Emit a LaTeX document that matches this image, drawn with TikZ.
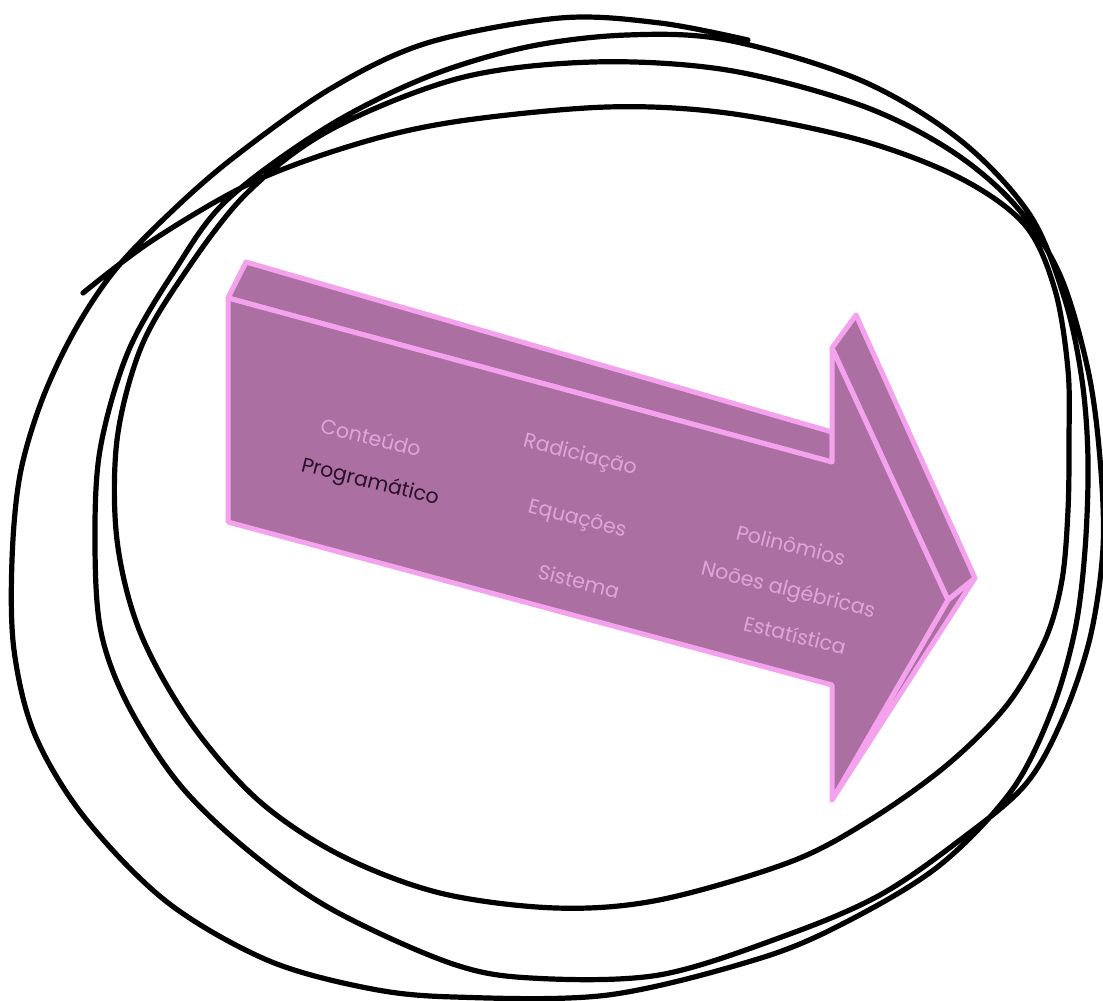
\documentclass[tikz,border=0pt]{standalone}
\usepackage{fontspec}
\setmainfont{Poppins}
\definecolor{arrowfill}{HTML}{AB70A1}
\definecolor{arrowedge}{HTML}{F5A2EE}
\definecolor{lighttext}{HTML}{E3A3DA}
\definecolor{darktext}{HTML}{2A1028}
\begin{document}
\begin{tikzpicture}[x=1pt,y=-1pt,
  face/.style={fill=arrowfill, draw=arrowedge, line width=5pt, line join=round},
  lbl/.style={text=lighttext, font=\fontsize{20.5}{24}\selectfont, rotate=-14, inner sep=0pt},
  dlbl/.style={lbl, text=darktext},
  pen/.style={draw=black, line width=5.2pt, line cap=round, line join=round}]
\useasboundingbox (0,0) rectangle (1103,1001);
% arrow corners
\coordinate (A) at (228,298);
\coordinate (Ab) at (246,262);
\coordinate (B) at (832,462);
\coordinate (Bb) at (832,432);
\coordinate (C) at (832,348);
\coordinate (Cb) at (856,315);
\coordinate (D) at (948,600);
\coordinate (Db) at (975,578);
\coordinate (E) at (832,800);
\coordinate (F) at (832,685);
\coordinate (G) at (228,522);
% faces
\path[face] (A) -- (Ab) -- (Bb) -- (B) -- cycle;
\path[face] (C) -- (Cb) -- (Db) -- (D) -- cycle;
\path[face] (D) -- (Db) -- (E) -- cycle;
\path[face] (A) -- (B) -- (C) -- (D) -- (E) -- (F) -- (G) -- cycle;
% labels
\node[lbl] (t1) at (371,437) {Conteúdo};
\node[dlbl] (t2) at (370,483) {Programático};
\node[lbl] (t3) at (580,456) {Radiciação};
\node[lbl] (t4) at (577,520) {Equações};
\node[lbl] (t5) at (579,581) {Sistema};
\node[lbl] (t6) at (791,545) {Polinômios};
\node[lbl] (t7) at (788,591) {Noões algébricas};
\node[lbl] (t8) at (795,635) {Estatística};
% scribble
\draw[pen] plot[smooth, tension=0.55] coordinates {
(83,293) (153,240) (253,182) (360,143) (460,121) (607,107) (727,113) (860,140) (960,178) (1025,225) (1055,290) (1068,370) (1069,440) (1068,510) (1062,580) (1045,640) (1007,705) (947,765) (870,820) (790,862) (659,900) (556,908) (440,893) (340,855) (258,800) (190,722) (140,632) (117,540) (117,440) (140,350) (180,280) (245,195) (330,130) (460,78) (593,62) (727,70) (860,105) (950,150) (1015,205) (1060,275) (1088,370) (1100,459) (1103,548) (1090,638) (1062,720) (1025,785) (960,840) (880,895) (787,935) (659,975) (531,978) (450,963) (333,910) (250,852) (180,785) (128,705) (101,632) (95,545) (100,450) (128,352) (175,270) (227,200) (327,127) (427,77) (527,47) (627,35) (727,40) (860,80) (960,140) (1030,215) (1065,300) (1082,380) (1088,460) (1085,550) (1075,630) (1052,710) (1012,790) (940,865) (850,920) (761,958) (608,995) (454,997) (367,988) (267,960) (167,902) (85,818) (35,735) (14,650) (12,560) (20,475) (42,400) (75,330) (115,270) (170,213) (233,158) (330,89) (427,43) (560,18) (660,23) (748,40)};
\end{tikzpicture}
\end{document}
